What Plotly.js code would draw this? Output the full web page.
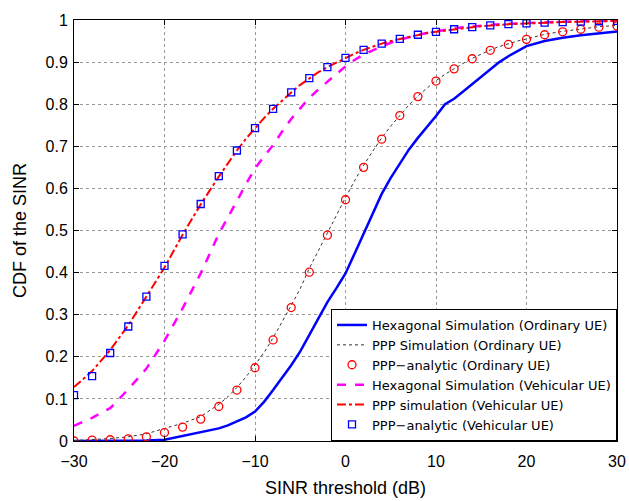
<!DOCTYPE html>
<html>
<head>
<meta charset="utf-8">
<script src="https://cdn.plot.ly/plotly-3.0.1.min.js"></script>
<style>html,body{margin:0;padding:0;background:#fff;}#chart{width:629px;height:501px;}</style>
</head>
<body>
<div id="chart"></div>
<script>
// Analytic points (every 2 dB)
const xAnalytic = [-30,-28,-26,-24,-22,-20,-18,-16,-14,-12,-10,-8,-6,-4,-2,0,2,4,6,8,10,12,14,16,18,20,22,24,26,28,30];
const pppAnalyticOrdinary = [0.000,0.002,0.003,0.005,0.010,0.020,0.033,0.052,0.082,0.121,0.174,0.240,0.317,0.401,0.489,0.573,0.650,0.717,0.773,0.818,0.855,0.884,0.908,0.928,0.942,0.954,0.965,0.972,0.978,0.983,0.986];
const pppAnalyticVehicular = [0.109,0.154,0.209,0.272,0.343,0.416,0.491,0.563,0.629,0.690,0.743,0.789,0.828,0.862,0.888,0.910,0.929,0.944,0.955,0.965,0.972,0.978,0.983,0.987,0.990,0.992,0.994,0.995,0.996,0.997,0.998];

// Simulation curves
const xSim = [-30,-28,-26,-24,-22,-20,-18,-16,-14,-13,-12,-11,-10,-9,-8,-7,-6,-5,-4,-3,-2,-1,0,1,2,3,4,5,6,7,8,9,10,11,12,13,14,15,16,17,18,19,20,22,24,26,28,30];
const hexOrdinary = [0.000,0.000,0.000,0.001,0.001,0.003,0.012,0.021,0.030,0.037,0.046,0.056,0.070,0.093,0.121,0.150,0.180,0.213,0.253,0.290,0.330,0.363,0.398,0.445,0.493,0.543,0.587,0.625,0.658,0.692,0.720,0.745,0.772,0.800,0.813,0.830,0.848,0.866,0.884,0.900,0.914,0.927,0.938,0.950,0.958,0.964,0.969,0.973];
const pppSimOrdinary = [0.001,0.003,0.006,0.010,0.017,0.030,0.042,0.058,0.087,0.105,0.127,0.152,0.182,0.210,0.245,0.282,0.322,0.362,0.410,0.452,0.495,0.537,0.578,0.618,0.655,0.688,0.720,0.748,0.774,0.798,0.820,0.838,0.856,0.871,0.885,0.897,0.909,0.919,0.929,0.937,0.944,0.950,0.955,0.966,0.973,0.979,0.984,0.987];
const hexVehicular = [0.036,0.055,0.078,0.123,0.172,0.238,0.315,0.398,0.492,0.530,0.570,0.610,0.647,0.676,0.703,0.735,0.765,0.790,0.815,0.835,0.853,0.872,0.890,0.905,0.918,0.928,0.937,0.946,0.953,0.959,0.965,0.969,0.973,0.977,0.980,0.983,0.985,0.987,0.988,0.990,0.991,0.992,0.993,0.995,0.996,0.997,0.998,0.998];
const pppSimVehicular = [0.128,0.166,0.216,0.275,0.343,0.412,0.490,0.562,0.628,0.660,0.690,0.718,0.743,0.767,0.789,0.809,0.828,0.846,0.862,0.876,0.888,0.899,0.910,0.920,0.929,0.937,0.944,0.950,0.955,0.960,0.965,0.969,0.972,0.975,0.978,0.981,0.983,0.985,0.987,0.989,0.990,0.991,0.992,0.994,0.995,0.996,0.997,0.998];

const yTicks = [0,0.1,0.2,0.3,0.4,0.5,0.6,0.7,0.8,0.9,1];
const yTickText = ["0","0.1","0.2","0.3","0.4","0.5","0.6","0.7","0.8","0.9","1"];
const xTicks = [-30,-20,-10,0,10,20,30];

const traces = [
  {x: xSim, y: hexOrdinary, mode: 'lines', name: 'Hexagonal Simulation (Ordinary UE)',
   line: {color: '#0000ff', width: 2.5}},
  {x: xSim, y: pppSimOrdinary, mode: 'lines', name: 'PPP Simulation (Ordinary UE)',
   line: {color: '#333333', width: 1, dash: 'dot'}},
  {x: xAnalytic, y: pppAnalyticOrdinary, mode: 'markers', name: 'PPP−analytic (Ordinary UE)',
   marker: {symbol: 'circle-open', color: '#ff0000', size: 8, line: {width: 1.3}}},
  {x: xSim, y: hexVehicular, mode: 'lines', name: 'Hexagonal Simulation (Vehicular UE)',
   line: {color: '#ff00ff', width: 2.5, dash: 'dash'}},
  {x: xSim, y: pppSimVehicular, mode: 'lines', name: 'PPP simulation (Vehicular UE)',
   line: {color: '#ff0000', width: 2, dash: 'dashdot'}},
  {x: xAnalytic, y: pppAnalyticVehicular, mode: 'markers', name: 'PPP−analytic (Vehicular UE)',
   marker: {symbol: 'square-open', color: '#0000ff', size: 7, line: {width: 1.3}}}
];

const layout = {
  width: 629, height: 501,
  margin: {l: 74, r: 12, t: 20, b: 60},
  paper_bgcolor: '#ffffff', plot_bgcolor: '#ffffff',
  font: {family: 'Liberation Sans, Arial, sans-serif', color: '#000', size: 16},
  showlegend: true,
  legend: {x: 1, xanchor: 'right', y: 0, yanchor: 'bottom', bgcolor: '#ffffff',
           bordercolor: '#000', borderwidth: 1, tracegroupgap: 0,
           font: {family: 'DejaVu Sans, sans-serif', size: 13}},
  xaxis: {range: [-30, 30], tickvals: xTicks, ticks: 'inside', ticklen: 5, tickcolor: '#000',
          showline: true, linecolor: '#000', linewidth: 1, mirror: 'ticks', ticklabelstandoff: 6,
          showgrid: true, gridcolor: '#999', griddash: 'dot', gridwidth: 1, zeroline: false,
          title: {text: 'SINR threshold (dB)', font: {size: 18}, standoff: 12}},
  yaxis: {range: [0, 1], tickvals: yTicks, ticktext: yTickText, ticks: 'inside', ticklen: 5, tickcolor: '#000',
          showline: true, linecolor: '#000', linewidth: 1, mirror: 'ticks', ticklabelstandoff: 2,
          showgrid: true, gridcolor: '#999', griddash: 'dot', gridwidth: 1, zeroline: false,
          title: {text: 'CDF of the SINR', font: {size: 18}, standoff: 14}}
};

Plotly.newPlot('chart', traces, layout, {displayModeBar: false, staticPlot: true});
</script>
</body>
</html>
